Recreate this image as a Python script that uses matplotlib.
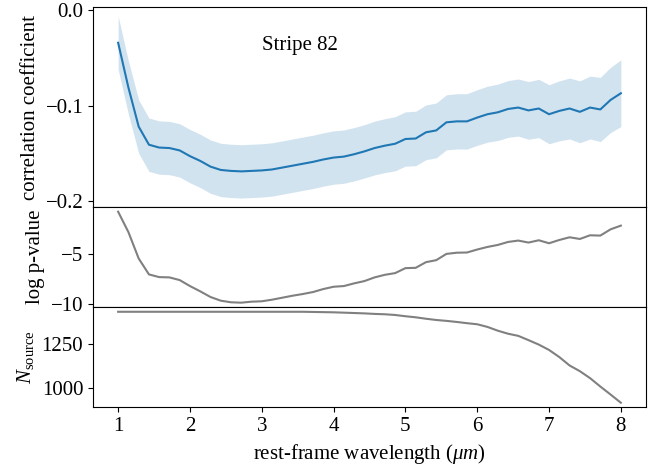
import matplotlib
matplotlib.use("Agg")
import matplotlib.pyplot as plt
import numpy as np

plt.rcParams['font.family'] = ['Liberation Serif', 'DejaVu Serif']
plt.rcParams['mathtext.fontset'] = 'custom'
plt.rcParams['mathtext.rm'] = 'Liberation Serif'
plt.rcParams['mathtext.it'] = 'Liberation Serif:italic'
plt.rcParams['font.size'] = 15

wavelength = [1.000, 1.143, 1.286, 1.429, 1.571, 1.714, 1.857, 2.000, 2.143, 2.286,
              2.429, 2.571, 2.714, 2.857, 3.000, 3.143, 3.286, 3.429, 3.571, 3.714,
              3.857, 4.000, 4.143, 4.286, 4.429, 4.571, 4.714, 4.857, 5.000, 5.143,
              5.286, 5.429, 5.571, 5.714, 5.857, 6.000, 6.143, 6.286, 6.429, 6.571,
              6.714, 6.857, 7.000, 7.143, 7.286, 7.429, 7.571, 7.714, 7.857, 8.000]

corr = [-0.034, -0.081, -0.122, -0.141, -0.144, -0.1445, -0.147, -0.153, -0.158, -0.164,
        -0.1675, -0.1685, -0.169, -0.1685, -0.168, -0.167, -0.165, -0.163, -0.161, -0.159,
        -0.1565, -0.1545, -0.1535, -0.151, -0.148, -0.1445, -0.142, -0.140, -0.135, -0.1345,
        -0.128, -0.126, -0.1175, -0.1165, -0.1165, -0.1125, -0.109, -0.107, -0.1035, -0.102,
        -0.105, -0.103, -0.109, -0.1055, -0.103, -0.1065, -0.102, -0.104, -0.094, -0.087]

corr_err = [0.028] * 25 + [0.0282, 0.0283, 0.0284, 0.0285, 0.0286, 0.0287, 0.0288, 0.0289, 0.029,
                           0.0291, 0.0292, 0.0294, 0.0296, 0.0298, 0.030, 0.0303, 0.0306, 0.031,
                           0.0315, 0.032, 0.0325, 0.033, 0.0337, 0.0343, 0.035]

log_p = [-0.7, -2.75, -5.4, -7.0, -7.27, -7.3, -7.57, -8.17, -8.7, -9.27,
         -9.64, -9.8, -9.84, -9.74, -9.7, -9.54, -9.34, -9.14, -8.97, -8.77,
         -8.47, -8.24, -8.17, -7.9, -7.67, -7.3, -7.04, -6.87, -6.37, -6.34,
         -5.77, -5.57, -4.94, -4.82, -4.8, -4.5, -4.24, -4.04, -3.74, -3.6,
         -3.8, -3.57, -3.87, -3.54, -3.27, -3.44, -3.07, -3.1, -2.47, -2.1]

n_source = [1430] * 19 + [1429, 1428, 1427, 1425, 1423,
                          1421, 1418, 1416, 1412, 1405, 1399, 1391, 1384, 1379, 1373,
                          1366, 1360, 1345, 1324, 1307, 1295, 1271, 1246, 1216, 1176,
                          1129, 1097, 1058, 1011, 966, 920]

corr_ticks = [-0.2, -0.1, 0.0]
logp_ticks = [-10, -5]
n_ticks = [1000, 1250]
x_ticks = [1, 2, 3, 4, 5, 6, 7, 8]

x = np.array(wavelength)
c = np.array(corr)
e = np.array(corr_err)

fig = plt.figure(figsize=(6.65, 4.68), dpi=100)
gs = fig.add_gridspec(3, 1, height_ratios=[2, 1, 1], hspace=0,
                      left=93/665, right=646/665, top=1-7/468, bottom=1-407.3/468)
ax1 = fig.add_subplot(gs[0])
ax2 = fig.add_subplot(gs[1], sharex=ax1)
ax3 = fig.add_subplot(gs[2], sharex=ax1)

ax1.fill_between(x, c - e, c + e, color='C0', alpha=0.2, linewidth=0)
ax1.plot(x, c, color='C0', lw=1.5)
ax1.set_yticks(corr_ticks)
ax1.set_ylabel('correlation coefficient')
ax1.text(0.306, 0.785, 'Stripe 82', transform=ax1.transAxes, ha='left', va='baseline')

ax2.plot(x, log_p, color='gray', lw=1.5)
ax2.set_yticks(logp_ticks)
ax2.set_ylabel('log p-value')

ax3.plot(x, n_source, color='gray', lw=1.5)
ax3.set_yticks(n_ticks)
ax3.set_ylabel(r'$N_{\rm source}$')
ax3.set_xticks(x_ticks)
ax3.set_xlabel(r'rest-frame wavelength ($\mu m$)')

for ax in (ax1, ax2):
    ax.tick_params(axis='x', bottom=False, labelbottom=False)

fig.savefig('out.png', dpi=100)
